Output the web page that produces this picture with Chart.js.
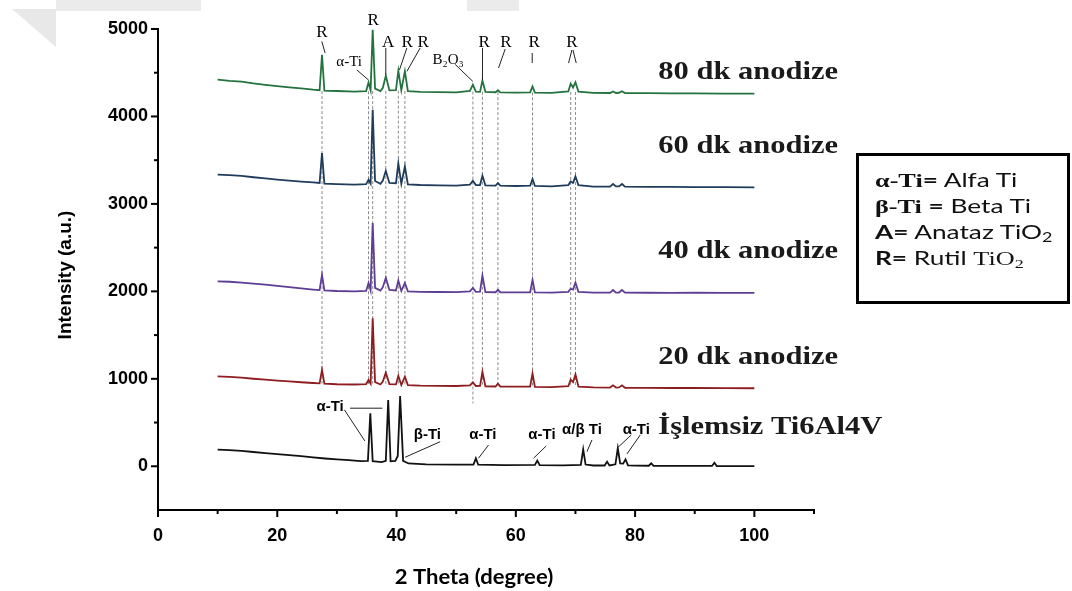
<!DOCTYPE html>
<html>
<head>
<meta charset="utf-8">
<script src="https://cdn.jsdelivr.net/npm/chart.js@4.4.1/dist/chart.umd.min.js"></script>
<style>
  html, body { margin: 0; padding: 0; background: #fff; }
  #wrap { position: relative; width: 1072px; height: 591px; overflow: hidden; background: #fff; }
  #xrd { position: absolute; left: 0; top: 0; }
  .shade { position: absolute; background: #ebebeb; }
  .fold { position: absolute; left: 0; top: 0; width: 0; height: 0; border-style: solid; border-width: 0 0 0 0; }
  .key { position: absolute; left: 856px; top: 153px; width: 214px; height: 151px; border: 3px solid #000; box-sizing: border-box; }
  .key div { position: absolute; left: 16px; white-space: nowrap; font-family: Lato, "Open Sans", sans-serif; font-size: 19px; line-height: 20px; transform: scaleX(1.38); transform-origin: left center; color: #111; }
  .key b { font-weight: bold; }
  .key .tnr { font-family: "Liberation Serif", "Times New Roman", serif; }
  .key sub { font-size: 13px; vertical-align: -3px; line-height: 0; }
</style>
</head>
<body>
<div id="wrap">
  <svg style="position:absolute;left:0;top:0" width="70" height="60">
    <polygon points="12,9 56,9 56,47" fill="#e8e8e8"/>
  </svg>
  <div class="shade" style="left:56px;top:0;width:145px;height:11px"></div>
  <div class="shade" style="left:467px;top:0;width:52px;height:11px"></div>
  <canvas id="xrd" width="1072" height="591"></canvas>
  <div class="key">
    <div style="top:14px"><b class="tnr">α-Ti</b><b>=</b> Alfa Ti</div>
    <div style="top:40px"><b class="tnr">β-Ti</b> <b>=</b> Beta Ti</div>
    <div style="top:66px"><b>A=</b> Anataz TiO<sub>2</sub></div>
    <div style="top:92px"><b>R=</b> Rutil <span class="tnr">TiO<sub>2</sub></span></div>
  </div>
</div>
<script>
// 2θ grid shared by the four anodized samples
const angles = [10, 12, 14, 16, 18, 20, 22, 24, 26, 27.1,
  27.5, 27.9, 30, 33, 34.9, 35.3, 35.65, 36.0, 36.4, 37.3,
  37.7, 38.2, 38.8, 39.9, 40.3, 40.8, 41.4, 41.9, 44, 47,
  50, 52.3, 52.8, 53.3, 54.0, 54.4, 54.9, 56.6, 57.0, 57.4,
  60, 62.4, 62.8, 63.2, 66, 68.8, 69.2, 69.6, 70.0, 70.5,
  73, 75.8, 76.3, 76.8, 77.3, 77.8, 78.3, 82, 86, 90,
  95, 100];

// intensities (curves already offset vertically)
const anod80 = [4420, 4406, 4398, 4378, 4362, 4347, 4333, 4320, 4306, 4300,
  4706, 4296, 4291, 4284, 4290, 4389, 4300, 4990, 4318, 4290,
  4328, 4466, 4298, 4302, 4523, 4300, 4515, 4290, 4282, 4279,
  4276, 4292, 4363, 4284, 4281, 4410, 4282, 4277, 4300, 4275,
  4273, 4276, 4343, 4272, 4270, 4286, 4374, 4330, 4390, 4284,
  4270, 4268, 4286, 4268, 4271, 4288, 4268, 4266, 4263, 4265,
  4262, 4260];
const anod60 = [3335, 3329, 3320, 3305, 3291, 3278, 3266, 3255, 3246, 3240,
  3581, 3233, 3226, 3220, 3226, 3276, 3232, 4077, 3262, 3230,
  3268, 3379, 3240, 3236, 3463, 3230, 3428, 3222, 3216, 3212,
  3210, 3220, 3264, 3215, 3216, 3321, 3212, 3210, 3238, 3208,
  3205, 3208, 3284, 3205, 3200, 3215, 3256, 3240, 3314, 3214,
  3198, 3198, 3228, 3200, 3201, 3228, 3198, 3195, 3195, 3193,
  3192, 3190];
const anod40 = [2115, 2110, 2101, 2089, 2076, 2063, 2048, 2033, 2021, 2015,
  2189, 2010, 2004, 2000, 2005, 2097, 2012, 2780, 2040, 2010,
  2048, 2154, 2016, 2010, 2124, 2005, 2097, 2000, 1995, 1993,
  1992, 2000, 2040, 1995, 1996, 2181, 1992, 1990, 2017, 1990,
  1988, 1990, 2131, 1988, 1985, 1995, 2030, 2020, 2101, 1995,
  1985, 1985, 2015, 1985, 1987, 2015, 1985, 1984, 1983, 1984,
  1983, 1982];
const anod20 = [1028, 1022, 1013, 1001, 990, 980, 970, 961, 952, 948,
  1102, 945, 938, 935, 940, 987, 946, 1693, 962, 935,
  968, 1071, 940, 936, 1033, 930, 1025, 928, 922, 920,
  918, 925, 960, 918, 919, 1080, 915, 912, 945, 912,
  910, 912, 1060, 908, 905, 915, 990, 962, 1050, 910,
  902, 900, 925, 900, 901, 925, 898, 897, 895, 895,
  893, 892];

// untreated Ti6Al4V
const bareAngles = [10, 12, 14, 16, 18, 20, 22, 24, 26, 28,
  30, 32, 34, 35.2, 35.6, 36.0, 37.5, 38.2, 38.6, 39.0,
  39.8, 40.2, 40.6, 41.1, 42, 45, 50, 52.9, 53.3, 53.7,
  58, 63.2, 63.6, 64.0, 68, 70.9, 71.3, 71.7, 73, 74.9,
  75.3, 75.7, 76.7, 77.1, 77.5, 78.0, 78.4, 78.8, 80, 82.3,
  82.7, 83.1, 88, 92.9, 93.3, 93.7, 100];
const bare = [190, 185, 176, 163, 151, 140, 128, 116, 101, 89,
  79, 70, 60, 62, 606, 58, 48, 62, 758, 58,
  62, 118, 804, 62, 32, 22, 18, 20, 91, 18,
  14, 15, 64, 12, 10, 15, 194, 20, 9, 9,
  53, 9, 22, 206, 32, 30, 80, 11, 7, 6,
  34, 5, 4, 4, 41, 3, 2];

// reflection guides through the anodized patterns
const guideAngles = [27.5, 35.3, 36.0, 38.2, 40.3, 41.4, 52.8, 54.4, 57.0, 62.8, 69.2, 70.0];
const guideTop = [4290, 4288, 4290, 4292, 4295, 4292, 4285, 4282, 4278, 4275, 4280, 4280];
const guideBottom = [945, 940, 945, 940, 935, 930, 720, 918, 912, 908, 915, 910];

// phase tags on the top pattern
const topTags = ['R', 'α-Ti', 'R', 'A', 'R', 'R', 'B₂O₃', 'R', 'R', 'R', 'R'];
const topTagX = [27.47, 32.05, 36.07, 38.59, 41.78, 44.46, 48.66, 54.70, 58.34, 63.09, 69.41];
const topTagY = [4954, 4626, 5095, 4844, 4844, 4844, 4649, 4844, 4844, 4844, 4844];
const topLeaders = [
  [27.47, 4858, 28.02, 4725], [33.34, 4532, 35.28, 4418], [38.20, 4783, 38.20, 4477],
  [41.73, 4783, 40.49, 4532], [43.96, 4783, 41.73, 4515], [49.83, 4595, 52.80, 4400],
  [54.41, 4783, 54.41, 4420], [58.22, 4771, 57.10, 4554], [62.75, 4725, 62.75, 4611],
  [69.41, 4760, 68.84, 4611], [69.58, 4760, 70.13, 4611]
];

// phase tags on the untreated pattern
const baseTags = ['α-Ti', 'β-Ti', 'α-Ti', 'α-Ti', 'α/β Ti', 'α-Ti'];
const baseTagX = [28.86, 45.18, 54.48, 64.38, 71.09, 80.20];
const baseTagY = [682, 358, 358, 358, 415, 415];
const baseLeaders = [
  [31.26, 645, 34.68, 290], [32.21, 664, 37.63, 664], [47.32, 281, 41.44, 103],
  [55.42, 243, 53.74, 92], [65.10, 232, 62.97, 92], [72.77, 301, 71.93, 167],
  [79.36, 358, 76.96, 206], [80.87, 358, 78.64, 141]
];

// sample names beside each pattern
const sampleNames = ['80 dk anodize', '60 dk anodize', '40 dk anodize', '20 dk anodize', 'İşlemsiz Ti6Al4V'];
const sampleNameY = [4497, 3657, 2452, 1239, 438];
const sampleNameX = 83.9;

const xTicks = [0, 10, 20, 30, 40, 50, 60, 70, 80, 90, 100, 110];
const yTicks = [0, 1000, 2000, 3000, 4000, 5000];

const pts = (xs, ys) => xs.map((a, i) => ({ x: a, y: ys[i] }));

const curve = (vals, color, xs) => ({
  data: pts(xs || angles, vals),
  borderColor: color,
  borderWidth: 1.8,
  pointRadius: 0,
  order: 1
});

const datasets = [
  curve(anod80, '#24733f'),
  curve(anod60, '#1f3d5a'),
  curve(anod40, '#5e3d94'),
  curve(anod20, '#8e1d1f'),
  curve(bare, '#111111', bareAngles)
];
guideAngles.forEach((a, i) => {
  datasets.push({
    data: [{ x: a, y: guideTop[i] }, { x: a, y: guideBottom[i] }],
    borderColor: '#8a8a8a',
    borderWidth: 1,
    borderDash: [3, 2],
    pointRadius: 0,
    order: 2
  });
});

function stretchText(ctx, txt, px, py, font, sx, align) {
  ctx.save();
  ctx.font = font;
  ctx.translate(px, py);
  ctx.scale(sx, 1);
  ctx.textAlign = align || 'center';
  ctx.textBaseline = 'middle';
  ctx.fillText(txt, 0, 0);
  ctx.restore();
}

const marks = {
  id: 'marks',
  afterDraw(chart) {
    const { ctx, chartArea: area } = chart;
    const x = chart.scales.x, y = chart.scales.y;
    ctx.save();
    ctx.strokeStyle = '#000';
    ctx.fillStyle = '#000';
    ctx.lineWidth = 2;

    // axis tick marks, long on labelled values
    xTicks.forEach(v => {
      const px = x.getPixelForValue(v);
      const len = v % 20 === 0 ? 7 : 4;
      ctx.beginPath();
      ctx.moveTo(px, area.bottom);
      ctx.lineTo(px, area.bottom + len);
      ctx.stroke();
    });
    for (let v = 0; v <= 5000; v += 500) {
      const py = y.getPixelForValue(v);
      const len = v % 1000 === 0 ? 7 : 4;
      ctx.beginPath();
      ctx.moveTo(area.left, py);
      ctx.lineTo(area.left - len, py);
      ctx.stroke();
    }

    // axis titles
    ctx.save();
    ctx.translate(66, 275);
    ctx.rotate(-Math.PI / 2);
    ctx.font = 'bold 19px "Liberation Sans", Arial, sans-serif';
    ctx.textAlign = 'center';
    ctx.textBaseline = 'middle';
    ctx.fillText('Intensity (a.u.)', 0, 0);
    ctx.restore();
    stretchText(ctx, '2 Theta (degree)', 474, 577, 'bold 21px Lato, sans-serif', 1.05);

    // leader lines
    ctx.lineWidth = 1;
    ctx.strokeStyle = '#222';
    topLeaders.concat(baseLeaders).forEach(l => {
      ctx.beginPath();
      ctx.moveTo(x.getPixelForValue(l[0]), y.getPixelForValue(l[1]));
      ctx.lineTo(x.getPixelForValue(l[2]), y.getPixelForValue(l[3]));
      ctx.stroke();
    });

    // phase tags
    topTags.forEach((t, i) => {
      const size = t === 'R' || t === 'A' ? 17 : 15;
      stretchText(ctx, t, x.getPixelForValue(topTagX[i]), y.getPixelForValue(topTagY[i]),
        size + 'px "Liberation Serif", serif', 1);
    });
    baseTags.forEach((t, i) => {
      stretchText(ctx, t, x.getPixelForValue(baseTagX[i]), y.getPixelForValue(baseTagY[i]),
        'bold 15px "Liberation Sans", Arial, sans-serif', 1);
    });

    // sample names
    ctx.fillStyle = '#1a1a1a';
    sampleNames.forEach((n, i) => {
      stretchText(ctx, n, x.getPixelForValue(sampleNameX), y.getPixelForValue(sampleNameY[i]),
        'bold 25px "Liberation Serif", "Times New Roman", serif', 1.22, 'left');
    });
    ctx.restore();
  }
};

new Chart(document.getElementById('xrd'), {
  type: 'line',
  data: { datasets },
  options: {
    responsive: false,
    animation: false,
    layout: { padding: { top: 29, right: 258, left: 0, bottom: 0 } },
    plugins: { legend: { display: false }, tooltip: { enabled: false } },
    elements: { line: { tension: 0 } },
    scales: {
      x: {
        type: 'linear',
        min: 0,
        max: 110,
        afterBuildTicks: s => { s.ticks = xTicks.map(v => ({ value: v })); },
        afterFit: s => { s.height = 81; },
        grid: { display: false, drawTicks: false },
        border: { display: true, color: '#000', width: 2 },
        ticks: {
          autoSkip: false,
          maxRotation: 0,
          padding: 15,
          color: '#000',
          font: { family: '"Liberation Sans", Arial', size: 18, weight: 'bold' },
          callback: v => (v % 20 === 0 && v <= 100 ? String(v) : '')
        }
      },
      y: {
        type: 'linear',
        min: -500,
        max: 5000,
        afterBuildTicks: s => { s.ticks = yTicks.map(v => ({ value: v })); },
        afterFit: s => { s.width = 158; },
        grid: { display: false, drawTicks: false },
        border: { display: true, color: '#000', width: 2 },
        ticks: {
          padding: 10,
          color: '#000',
          font: { family: '"Liberation Sans", Arial', size: 18, weight: 'bold' },
          callback: v => String(v)
        }
      }
    }
  },
  plugins: [marks]
});
</script>
</body>
</html>
